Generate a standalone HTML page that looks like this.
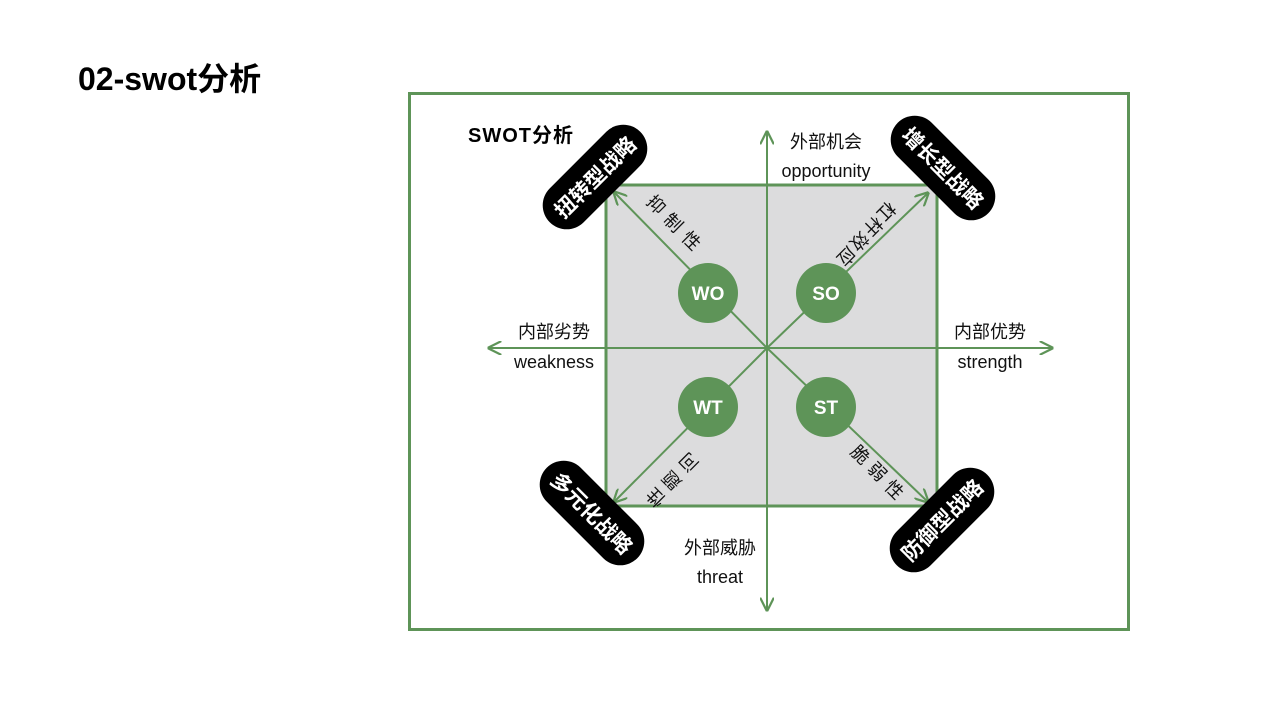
<!DOCTYPE html>
<html><head><meta charset="utf-8"><style>
html,body{margin:0;padding:0;background:#fff;width:1280px;height:720px;overflow:hidden}
text{font-family:"Liberation Sans","Noto Sans CJK SC",sans-serif}
</style></head><body>
<svg width="1280" height="720" viewBox="0 0 1280 720" xmlns="http://www.w3.org/2000/svg">
<defs>
<marker id="a" viewBox="0 0 10 10" refX="9" refY="5" markerWidth="7" markerHeight="7" orient="auto-start-reverse">
<path d="M0,0 L10,5 L0,10" fill="none" stroke="#5e9458" stroke-width="1.6"/></marker>
</defs>
<text x="78" y="90" font-size="32" font-weight="bold" fill="#000">02-swot分析</text>
<rect x="409.5" y="93.5" width="719" height="536" fill="none" stroke="#5e9458" stroke-width="3"/>
<text x="468" y="142" font-size="20" font-weight="bold" letter-spacing="1">SWOT分析</text>
<rect x="606" y="185" width="331" height="321" fill="#dcdcdd" stroke="#5e9458" stroke-width="3"/>
<g stroke="#5e9458" stroke-width="2" fill="none">
<line x1="767" y1="610" x2="767" y2="132" marker-end="url(#a)" marker-start="url(#a)"/>
<line x1="489" y1="348" x2="1052" y2="348" marker-end="url(#a)" marker-start="url(#a)"/>
<line x1="767" y1="348" x2="614" y2="192" marker-end="url(#a)"/>
<line x1="767" y1="348" x2="928" y2="193" marker-end="url(#a)"/>
<line x1="767" y1="348" x2="614" y2="502" marker-end="url(#a)"/>
<line x1="767" y1="348" x2="928" y2="502" marker-end="url(#a)"/>
</g>
<g fill="#5e9458">
<circle cx="708" cy="293" r="30"/><circle cx="826" cy="293" r="30"/>
<circle cx="708" cy="407" r="30"/><circle cx="826" cy="407" r="30"/>
</g>
<g fill="#fff" font-size="19" font-weight="bold" text-anchor="middle">
<text x="708" y="300">WO</text><text x="826" y="300">SO</text>
<text x="708" y="414">WT</text><text x="826" y="414">ST</text>
</g>
<g font-size="18" fill="#111" text-anchor="middle">
<text x="826" y="148">外部机会</text><text x="826" y="177">opportunity</text>
<text x="554" y="338">内部劣势</text><text x="554" y="368">weakness</text>
<text x="990" y="338">内部优势</text><text x="990" y="368">strength</text>
<text x="720" y="554">外部威胁</text><text x="720" y="583">threat</text>
</g>
<g font-size="18" fill="#111" text-anchor="middle">
<text transform="translate(656,205) rotate(45)" y="6">抑</text>
<text transform="translate(673,223) rotate(45)" y="6">制</text>
<text transform="translate(691,241) rotate(45)" y="6">性</text>
<text transform="translate(886,211) rotate(135)" y="6">杠</text>
<text transform="translate(873,226) rotate(135)" y="6">杆</text>
<text transform="translate(859,241) rotate(135)" y="6">效</text>
<text transform="translate(846,256) rotate(135)" y="6">应</text>
<text transform="translate(689,462) rotate(-135)" y="6">问</text>
<text transform="translate(672,480) rotate(-135)" y="6">题</text>
<text transform="translate(656,497) rotate(-135)" y="6">性</text>
<text transform="translate(860,455) rotate(45)" y="6">脆</text>
<text transform="translate(877,472) rotate(45)" y="6">弱</text>
<text transform="translate(894,490) rotate(45)" y="6">性</text>
</g>
<g font-size="21" font-weight="bold" fill="#fff" text-anchor="middle">
<g transform="translate(595,177) rotate(-45)"><rect x="-64" y="-24" width="128" height="48" rx="24" fill="#000"/><text y="8">扭转型战略</text></g>
<g transform="translate(943,168) rotate(45)"><rect x="-64" y="-24" width="128" height="48" rx="24" fill="#000"/><text y="8">增长型战略</text></g>
<g transform="translate(592,513) rotate(45)"><rect x="-64" y="-24" width="128" height="48" rx="24" fill="#000"/><text y="8">多元化战略</text></g>
<g transform="translate(942,520) rotate(-45)"><rect x="-64" y="-24" width="128" height="48" rx="24" fill="#000"/><text y="8">防御型战略</text></g>
</g>
</svg>
</body></html>
